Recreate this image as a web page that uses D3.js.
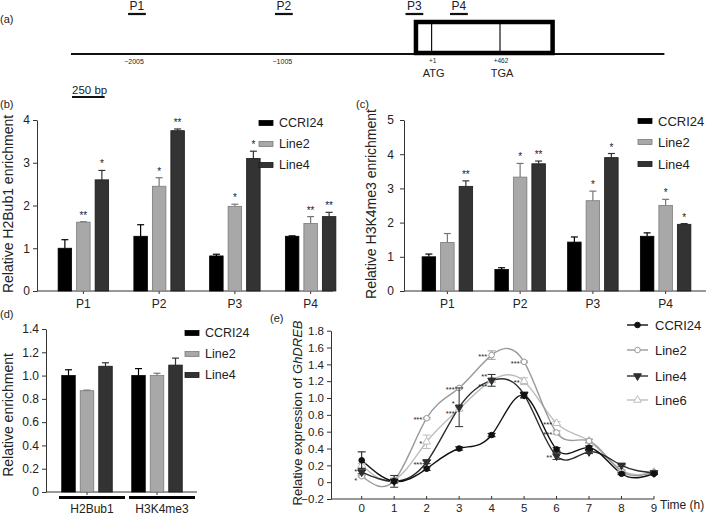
<!DOCTYPE html>
<html><head><meta charset="utf-8">
<script src="https://cdn.jsdelivr.net/npm/d3@7"></script>
<style>
body{margin:0;background:#fff}
text{font-family:"Liberation Sans",Arial,Helvetica,sans-serif;fill:#222}
</style>
</head><body>
<svg id="fig" width="709" height="516"></svg>
<script>
// ---------- DATA ----------
// (a) gene diagram
const primerNames = ["P1","P2","P3","P4"];
const primerStartBp = [-2045,-1055,-175,125];
const primerEndBp = [-1925,-935,-55,245];
const geneMarkLabels = ["−2005","−1005","+1","+462"];
const geneMarkBp = [-2005,-1005,1,462];
const codonLabels = ["ATG","TGA"];
const codonBp = [1,462];
const lineBp = [-2430,1570];
const boxBp = [-118,830];
const scaleBarBp = 220;

// (b),(c),(d) bar series
const barSeries = ["CCRI24","Line2","Line4"];
const siteCats = ["P1","P2","P3","P4"];

const h2bCCRI24 = [1.0,1.28,0.82,1.28];
const h2bCCRI24Err = [0.2,0.27,0.04,0.01];
const h2bCCRI24Sig = ["","","",""];
const h2bLine2 = [1.61,2.45,1.98,1.58];
const h2bLine2Err = [0.01,0.2,0.05,0.16];
const h2bLine2Sig = ["**","*","*","**"];
const h2bLine4 = [2.6,3.75,3.1,1.74];
const h2bLine4Err = [0.22,0.04,0.17,0.1];
const h2bLine4Sig = ["*","**","*","**"];
const h2bTicks = [0,1,2,3,4];

const h3kCCRI24 = [1.0,0.63,1.43,1.6];
const h3kCCRI24Err = [0.08,0.05,0.15,0.1];
const h3kCCRI24Sig = ["","","",""];
const h3kLine2 = [1.42,3.33,2.64,2.5];
const h3kLine2Err = [0.26,0.4,0.28,0.18];
const h3kLine2Sig = ["","*","*","*"];
const h3kLine4 = [3.06,3.72,3.9,1.95];
const h3kLine4Err = [0.16,0.08,0.12,0.02];
const h3kLine4Sig = ["**","**","*","*"];
const h3kTicks = [0,1,2,3,4,5];

const markCats = ["H2Bub1","H3K4me3"];
const globCCRI24 = [1.0,1.0];
const globCCRI24Err = [0.05,0.06];
const globLine2 = [0.87,1.0];
const globLine2Err = [0.005,0.02];
const globLine4 = [1.08,1.09];
const globLine4Err = [0.03,0.06];
const globTicks = [0,0.2,0.4,0.6,0.8,1.0,1.2,1.4];

// (e) time course
const hours = [0,1,2,3,4,5,6,7,8,9];
const lineSeries = ["CCRI24","Line2","Line4","Line6"];
const eCCRI24 = [0.26,0.01,0.16,0.40,0.56,1.03,0.39,0.41,0.10,0.10];
const eCCRI24Err = [0.10,0.02,0.02,0.02,0.02,0.03,0.02,0.02,0.01,0.01];
const eLine2 = [0.07,0.02,0.76,1.12,1.51,1.43,0.59,0.49,0.13,0.12];
const eLine2Err = [0.01,0.02,0.01,0.01,0.05,0.01,0.02,0.02,0.01,0.01];
const eLine4 = [0.12,0.01,0.24,0.89,1.21,1.04,0.31,0.36,0.20,0.11];
const eLine4Err = [0.02,0.07,0.02,0.23,0.07,0.03,0.04,0.02,0.01,0.01];
const eLine6 = [0.20,0.03,0.48,0.87,1.21,1.20,0.70,0.49,0.14,0.12];
const eLine6Err = [0.02,0.02,0.08,0.02,0.02,0.04,0.02,0.02,0.01,0.01];
const eTicks = [-0.2,0,0.2,0.4,0.6,0.8,1.0,1.2,1.4,1.6,1.8];
const eSigHour = [0,0,2,2,2,3,3,3,4,4,4,5,5,6,6,6];
const eSigValue = [0.145,0.045,0.76,0.48,0.23,1.12,0.84,0.95,1.51,1.27,1.16,1.43,1.20,0.70,0.59,0.31];
const eSigText = ["*","*","***","*","***","***","***","*","***","**","***","***","**","***","***","**"];

// ---------- DRAW ----------
const svg = d3.select("#fig");
const FONT = '"Liberation Sans",Arial,Helvetica,sans-serif';

function panelLabel(t,x,y){
  svg.append("text").attr("x",x).attr("y",y).attr("font-size",11).text(t);
}

// ----- (a) -----
panelLabel("(a)",0,23);
const bp = d3.scaleLinear().domain([-2005,462]).range([134,500]);
const ga = svg.append("g");
ga.append("line").attr("x1",bp(lineBp[0])).attr("x2",bp(lineBp[1]))
  .attr("y1",54).attr("y2",54).attr("stroke","#111").attr("stroke-width",2);
ga.append("rect").attr("x",bp(boxBp[0])+2).attr("y",22)
  .attr("width",bp(boxBp[1])-bp(boxBp[0])-4).attr("height",31)
  .attr("fill","none").attr("stroke","#000").attr("stroke-width",4.5);
codonBp.forEach((b,i)=>{
  ga.append("line").attr("x1",bp(b)).attr("x2",bp(b)).attr("y1",24).attr("y2",52)
    .attr("stroke","#111").attr("stroke-width",1.2);
  ga.append("text").attr("x",bp(b)+2).attr("y",77).attr("text-anchor","middle")
    .attr("font-size",11).text(codonLabels[i]);
});
geneMarkBp.forEach((b,i)=>{
  ga.append("text").attr("x",bp(b)+(i>=2?1:0)).attr("y",i>=2?63:64).attr("text-anchor","middle")
    .attr("font-size",i>=2?6.5:7).text(geneMarkLabels[i]);
});
primerNames.forEach((p,i)=>{
  const x1=bp(primerStartBp[i]), x2=bp(primerEndBp[i]);
  ga.append("line").attr("x1",x1).attr("x2",x2).attr("y1",14).attr("y2",14)
    .attr("stroke","#111").attr("stroke-width",2.2);
  ga.append("text").attr("x",(x1+x2)/2).attr("y",10).attr("text-anchor","middle")
    .attr("font-size",12).text(p);
});
// scale bar
ga.append("line").attr("x1",72).attr("x2",72+(bp(0)-bp(-scaleBarBp))).attr("y1",97).attr("y2",97)
  .attr("stroke","#111").attr("stroke-width",2);
ga.append("text").attr("x",72).attr("y",94).attr("font-size",11.5).text("250 bp");

// ----- bar panels -----
const barFill = {"CCRI24":"#000","Line2":"#a8a8a8","Line4":"#333"};
const barStroke = {"CCRI24":"#000","Line2":"#7a7a7a","Line4":"#1a1a1a"};
const errColor = {"CCRI24":"#000","Line2":"#777","Line4":"#333"};

function barPanel(o){
  const g = svg.append("g");
  const x = d3.scaleBand().domain(o.cats).range(o.bandRange);
  const off = d3.scalePoint().domain(barSeries).range([-18.5,18.5]);
  const bw = 13.5;
  const y = d3.scaleLinear().domain(o.yDomain).range(o.yRange);
  const ya = g.append("g").attr("transform",`translate(${o.axisX},0)`)
    .call(d3.axisLeft(y).tickValues(o.ticks).tickFormat(o.fmt).tickSize(4).tickSizeOuter(0).tickPadding(o.tickPad||3));
  ya.selectAll("text").attr("font-family",FONT).attr("font-size",o.tickFont||12).attr("fill","#222");
  ya.selectAll("line,path").attr("stroke","#333");
  g.append("line").attr("x1",o.axisX).attr("x2",o.axisEnd).attr("y1",y(0)).attr("y2",y(0)).attr("stroke","#333");
  o.cats.forEach(c=>{
    const cx = x(c)+x.bandwidth()/2;
    g.append("line").attr("x1",cx).attr("x2",cx).attr("y1",y(0)).attr("y2",y(0)+3).attr("stroke","#333");
    if(!o.noCatLabels) g.append("text").attr("x",cx).attr("y",y(0)+17).attr("text-anchor","middle")
      .attr("font-size",12).text(c);
  });
  barSeries.forEach((s,si)=>{
    const vals=o.vals[si], errs=o.errs[si], sigs=o.sigs?o.sigs[si]:null;
    o.cats.forEach((c,ci)=>{
      const cx = x(c)+x.bandwidth()/2+off(s);
      const v=vals[ci], e=errs[ci];
      g.append("line").attr("x1",cx).attr("x2",cx).attr("y1",y(v)).attr("y2",y(v+e))
        .attr("stroke",errColor[s]).attr("stroke-width",1.2);
      g.append("line").attr("x1",cx-3.5).attr("x2",cx+3.5).attr("y1",y(v+e)).attr("y2",y(v+e))
        .attr("stroke",errColor[s]).attr("stroke-width",1.2);
      g.append("rect").attr("x",cx-bw/2).attr("y",y(v)).attr("width",bw).attr("height",y(0)-y(v))
        .attr("fill",barFill[s]).attr("stroke",barStroke[s]).attr("stroke-width",0.8);
      if(sigs && sigs[ci]) g.append("text").attr("x",cx).attr("y",y(v+e)-3).attr("text-anchor","middle")
        .attr("font-size",10).text(sigs[ci]);
    });
  });
  barSeries.forEach((s,i)=>{
    const ly = o.legY[i];
    g.append("rect").attr("x",o.legX).attr("y",ly-2.5).attr("width",14).attr("height",5)
      .attr("fill",barFill[s]).attr("stroke",barStroke[s]).attr("stroke-width",0.8);
    g.append("text").attr("x",o.legX+20).attr("y",ly).attr("dy","0.35em")
      .attr("font-size",o.legFont||12.5).text(s);
  });
  g.append("text").attr("transform",`translate(${o.ylabX},${o.ylabY}) rotate(-90)`)
    .attr("text-anchor","middle").attr("dy","0.35em").attr("font-size",o.ylabFont||14).text(o.ylab);
  return {g,x,y};
}

panelLabel("(b)",0,108);
barPanel({cats:siteCats, vals:[h2bCCRI24,h2bLine2,h2bLine4], errs:[h2bCCRI24Err,h2bLine2Err,h2bLine4Err],
  sigs:[h2bCCRI24Sig,h2bLine2Sig,h2bLine4Sig], yDomain:[0,4], yRange:[291,120], axisX:37, axisEnd:333,
  bandRange:[45.5,348.5], ticks:h2bTicks, fmt:d3.format("d"), legX:259, legY:[123,144,165],
  ylab:"Relative H2Bub1 enrichment", ylabX:8, ylabY:204});

panelLabel("(c)",356,108);
barPanel({cats:siteCats, vals:[h3kCCRI24,h3kLine2,h3kLine4], errs:[h3kCCRI24Err,h3kLine2Err,h3kLine4Err],
  sigs:[h3kCCRI24Sig,h3kLine2Sig,h3kLine4Sig], yDomain:[0,5], yRange:[291,120], axisX:404, axisEnd:706,
  bandRange:[411,702], ticks:h3kTicks, fmt:d3.format("d"), tickPad:6, legX:638, legY:[121,142,164], legFont:13,
  ylab:"Relative H3K4me3 enrichment", ylabX:371, ylabY:204});

panelLabel("(d)",0,318);
const dp = barPanel({cats:markCats, vals:[globCCRI24,globLine2,globLine4], errs:[globCCRI24Err,globLine2Err,globLine4Err],
  sigs:null, yDomain:[0,1.4], yRange:[492,329], axisX:46, axisEnd:197,
  bandRange:[52,192], ticks:globTicks, fmt:v=>v===0?"0":d3.format(".1f")(v), legX:185, legY:[333,354,375],
  noCatLabels:true, ylab:"Relative enrichment", ylabX:8, ylabY:415});
markCats.forEach(c=>{
  const cx = dp.x(c)+dp.x.bandwidth()/2;
  dp.g.append("line").attr("x1",cx-28).attr("x2",cx+38).attr("y1",497.5).attr("y2",497.5)
    .attr("stroke","#000").attr("stroke-width",3);
  dp.g.append("text").attr("x",cx+5).attr("y",513).attr("text-anchor","middle").attr("font-size",12).text(c);
});

// ----- (e) -----
panelLabel("(e)",270,322);
const ge = svg.append("g");
const ex = d3.scaleLinear().domain([0,9]).range([361.7,654]);
const ey = d3.scaleLinear().domain([-0.2,1.8]).range([499,330.7]);
const eya = ge.append("g").attr("transform","translate(331,0)")
  .call(d3.axisLeft(ey).tickValues(eTicks).tickFormat(v=>Math.abs(v)<1e-9?"0":d3.format(".1f")(v)).tickSize(4).tickSizeOuter(0).tickPadding(3));
eya.selectAll("text").attr("font-family",FONT).attr("font-size",11.5).attr("fill","#222");
eya.selectAll("line,path").attr("stroke","#333");
ge.append("line").attr("x1",331).attr("x2",ex(9)).attr("y1",ey(-0.2)).attr("y2",ey(-0.2)).attr("stroke","#333");
hours.forEach(h=>{
  ge.append("line").attr("x1",ex(h)).attr("x2",ex(h)).attr("y1",ey(-0.2)).attr("y2",ey(-0.2)-3).attr("stroke","#333");
  ge.append("text").attr("x",ex(h)).attr("y",ey(-0.2)+13).attr("text-anchor","middle").attr("font-size",11.5).text(h);
});
ge.append("text").attr("x",660).attr("y",509).attr("font-size",12).text("Time (h)");
ge.append("text").attr("transform","translate(297,413) rotate(-90)").attr("text-anchor","middle")
  .attr("dy","0.35em").attr("font-size",13)
  .call(t=>{t.append("tspan").text("Relative expression of ");t.append("tspan").attr("font-style","italic").text("GhDREB");});

const eVals = [eCCRI24,eLine2,eLine4,eLine6];
const eErrs = [eCCRI24Err,eLine2Err,eLine4Err,eLine6Err];
const eColor = ["#111","#9a9a9a","#2e2e2e","#bdbdbd"];
const eMarkerFill = ["#111","#fff","#2e2e2e","#fff"];
const eMarkerKind = ["circle","circle","down","up"];
function marker(g,kind,cx,cy,color,fill){
  if(kind==="circle"){
    g.append("circle").attr("cx",cx).attr("cy",cy).attr("r",2.8).attr("fill",fill).attr("stroke",color).attr("stroke-width",1);
  } else {
    g.append("path").attr("d",d3.symbol(d3.symbolTriangle,26)())
      .attr("transform",`translate(${cx},${cy}) rotate(${kind==="down"?180:0})`)
      .attr("fill",fill).attr("stroke",color).attr("stroke-width",1);
  }
}
const lineGen = d3.line().x((d,i)=>ex(hours[i])).y(d=>ey(d)).curve(d3.curveNatural);
[3,1,2,0].forEach(si=>{
  ge.append("path").attr("d",lineGen(eVals[si])).attr("fill","none").attr("stroke",eColor[si]).attr("stroke-width",1.4);
});
[3,1,2,0].forEach(si=>{
  hours.forEach((h,i)=>{
    const v=eVals[si][i], e=eErrs[si][i], cx=ex(h);
    ge.append("line").attr("x1",cx).attr("x2",cx).attr("y1",ey(v-e)).attr("y2",ey(v+e)).attr("stroke",eColor[si]).attr("stroke-width",1);
    [v-e,v+e].forEach(w=>ge.append("line").attr("x1",cx-4).attr("x2",cx+4).attr("y1",ey(w)).attr("y2",ey(w)).attr("stroke",eColor[si]).attr("stroke-width",1));
    marker(ge,eMarkerKind[si],cx,ey(v),eColor[si],eMarkerFill[si]);
  });
});
eSigHour.forEach((h,i)=>{
  ge.append("text").attr("x",ex(h)-4.5).attr("y",ey(eSigValue[i])).attr("dy","0.55em").attr("text-anchor","end")
    .attr("font-size",7.5).text(eSigText[i]);
});
const eLegY=[325,350,376,400];
lineSeries.forEach((s,i)=>{
  ge.append("line").attr("x1",627).attr("x2",648).attr("y1",eLegY[i]).attr("y2",eLegY[i]).attr("stroke",eColor[i]).attr("stroke-width",1.4);
  marker(ge,eMarkerKind[i],637.5,eLegY[i],eColor[i],eMarkerFill[i]);
  ge.append("text").attr("x",655).attr("y",eLegY[i]).attr("dy","0.35em").attr("font-size",13).text(s);
});
</script>
</body></html>
